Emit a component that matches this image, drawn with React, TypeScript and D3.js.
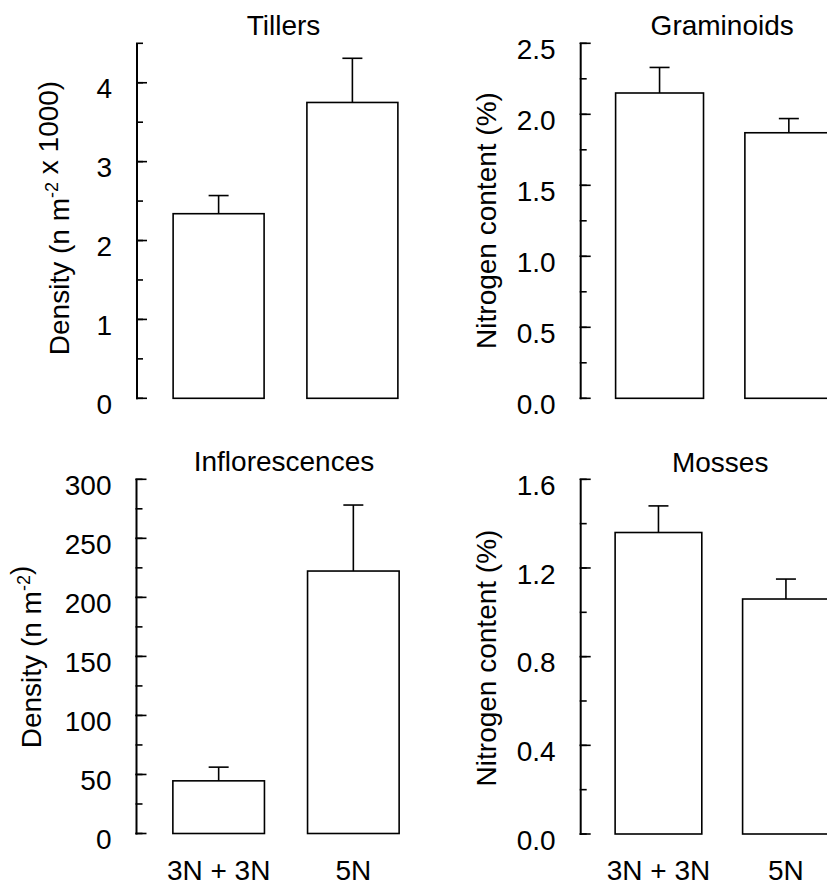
import React, { useEffect, useRef } from 'react';
import * as d3 from 'd3';

// treatments on the x axis
const categories = ['3N + 3N', '5N'];

// means and standard errors
const tillersMean = [2.34, 3.75];
const tillersErr = [0.23, 0.56];
const graminoidsMean = [2.15, 1.87];
const graminoidsErr = [0.18, 0.1];
const inflorescencesMean = [44.6, 222.3];
const inflorescencesErr = [11.6, 55.9];
const mossesMean = [1.36, 1.06];
const mossesErr = [0.12, 0.09];

// tick labels
const tillersTicks = [0, 1, 2, 3, 4];
const graminoidsTicks = [0, 0.5, 1, 1.5, 2, 2.5];
const inflorescencesTicks = [0, 50, 100, 150, 200, 250, 300];
const mossesTicks = [0, 0.4, 0.8, 1.2, 1.6];

const FONT = "'Liberation Sans', Arial, Helvetica, sans-serif";
const FS = 28;

const panels = [
    {
        title: 'Tillers', mean: tillersMean, err: tillersErr, ticks: tillersTicks,
        max: 4.5, minor: 0.5, fmt: d3.format('d'),
        label: [['Density (n m', false], ['-2', true], [' x 1000)', false]],
        x0: 137, width: 297, top: 43.3, bottom: 398.3, labelX: 69, labelY: 218,
        titleY: 35, showCats: false,
    },
    {
        title: 'Graminoids', mean: graminoidsMean, err: graminoidsErr, ticks: graminoidsTicks,
        max: 2.5, minor: 0.25, fmt: d3.format('.1f'),
        label: [['Nitrogen content (%)', false]],
        x0: 580.7, width: 287, top: 43.3, bottom: 398.3, labelX: 496, labelY: 220.5,
        titleY: 35, showCats: false,
    },
    {
        title: 'Inflorescences', mean: inflorescencesMean, err: inflorescencesErr, ticks: inflorescencesTicks,
        max: 300, minor: 25, fmt: d3.format('d'),
        label: [['Density (n m', false], ['-2', true], [')', false]],
        x0: 136.5, width: 299, top: 479.3, bottom: 833.5, labelX: 41, labelY: 657,
        titleY: 471, showCats: true,
    },
    {
        title: 'Mosses', mean: mossesMean, err: mossesErr, ticks: mossesTicks,
        max: 1.6, minor: 0.2, fmt: d3.format('.1f'),
        label: [['Nitrogen content (%)', false]],
        x0: 580.7, width: 283, top: 479.3, bottom: 834, labelX: 496, labelY: 658,
        titleY: 471.5, showCats: true,
    },
];

const App = () => {
    const ref = useRef(null);

    const graph = () => {
        const svg = d3.select(ref.current);
        svg.selectAll('*').remove();

        panels.forEach(p => {
            const g = svg.append('g').style('font-family', FONT);

            const x = d3.scaleBand().domain(categories)
                .range([p.x0, p.x0 + p.width])
                .paddingInner(0.32)
                .paddingOuter(0.27);

            const y = d3.scaleLinear().domain([0, p.max]).range([p.bottom, p.top]);

            // axis line
            g.append('line')
                .attr('x1', p.x0).attr('x2', p.x0)
                .attr('y1', y(0) + 1).attr('y2', y(p.max))
                .attr('stroke', '#000').attr('stroke-width', 2);

            // minor ticks
            const minorTicks = d3.range(0, p.max + p.minor / 2, p.minor);
            g.selectAll('line.minor')
                .data(minorTicks)
                .enter()
                .append('line')
                .attr('class', 'minor')
                .attr('x1', p.x0 - 1).attr('x2', p.x0 + 6)
                .attr('y1', d => y(d)).attr('y2', d => y(d))
                .attr('stroke', '#000').attr('stroke-width', 1.6);

            // major ticks
            g.selectAll('line.major')
                .data(p.ticks)
                .enter()
                .append('line')
                .attr('class', 'major')
                .attr('x1', p.x0 - 1).attr('x2', p.x0 + 10)
                .attr('y1', d => y(d)).attr('y2', d => y(d))
                .attr('stroke', '#000').attr('stroke-width', 1.6);

            g.selectAll('text.tick')
                .data(p.ticks)
                .enter()
                .append('text')
                .attr('class', 'tick')
                .attr('x', p.x0 - 25)
                .attr('y', d => y(d))
                .attr('dy', '0.56em')
                .attr('text-anchor', 'end')
                .style('font-size', FS + 'px')
                .text(d => p.fmt(d));

            // bars
            g.selectAll('rect.bar')
                .data(categories)
                .enter()
                .append('rect')
                .attr('class', 'bar')
                .attr('x', d => x(d))
                .attr('width', x.bandwidth())
                .attr('y', (d, i) => y(p.mean[i]))
                .attr('height', (d, i) => y(0) - y(p.mean[i]))
                .attr('fill', '#fff')
                .attr('stroke', '#000')
                .attr('stroke-width', 1.6);

            // error bars
            const cx = d => x(d) + x.bandwidth() / 2;
            g.selectAll('line.err')
                .data(categories)
                .enter()
                .append('line')
                .attr('class', 'err')
                .attr('x1', cx).attr('x2', cx)
                .attr('y1', (d, i) => y(p.mean[i]))
                .attr('y2', (d, i) => y(p.mean[i] + p.err[i]))
                .attr('stroke', '#000').attr('stroke-width', 1.6);
            g.selectAll('line.cap')
                .data(categories)
                .enter()
                .append('line')
                .attr('class', 'cap')
                .attr('x1', d => cx(d) - 10).attr('x2', d => cx(d) + 10)
                .attr('y1', (d, i) => y(p.mean[i] + p.err[i]))
                .attr('y2', (d, i) => y(p.mean[i] + p.err[i]))
                .attr('stroke', '#000').attr('stroke-width', 1.6);

            // title
            const mid = (x(categories[0]) + x(categories[1]) + x.bandwidth()) / 2 - 2;
            g.append('text')
                .attr('x', mid).attr('y', p.titleY)
                .attr('text-anchor', 'middle')
                .style('font-size', FS + 'px')
                .text(p.title);

            // y label
            const lab = g.append('text')
                .attr('transform', `translate(${p.labelX},${p.labelY}) rotate(-90)`)
                .attr('text-anchor', 'middle')
                .style('font-size', FS + 'px');
            p.label.forEach(([t, sup]) => {
                lab.append('tspan')
                    .attr('dy', sup ? -11 : 0)
                    .style('font-size', sup ? '18px' : FS + 'px')
                    .text(t);
                if (sup) lab.append('tspan').attr('dy', 11).text('');
            });

            if (p.showCats) {
                g.selectAll('text.cat')
                    .data(categories)
                    .enter()
                    .append('text')
                    .attr('class', 'cat')
                    .attr('x', cx)
                    .attr('y', 880)
                    .attr('text-anchor', 'middle')
                    .style('font-size', FS + 'px')
                    .text(d => d);
            }
        });
    };

    useEffect(() => graph());

    return (
        <svg ref={ref} width="827" height="886"
            style={{ position: 'absolute', left: 0, top: 0, background: '#fff' }}></svg>
    );
};

export default App;
